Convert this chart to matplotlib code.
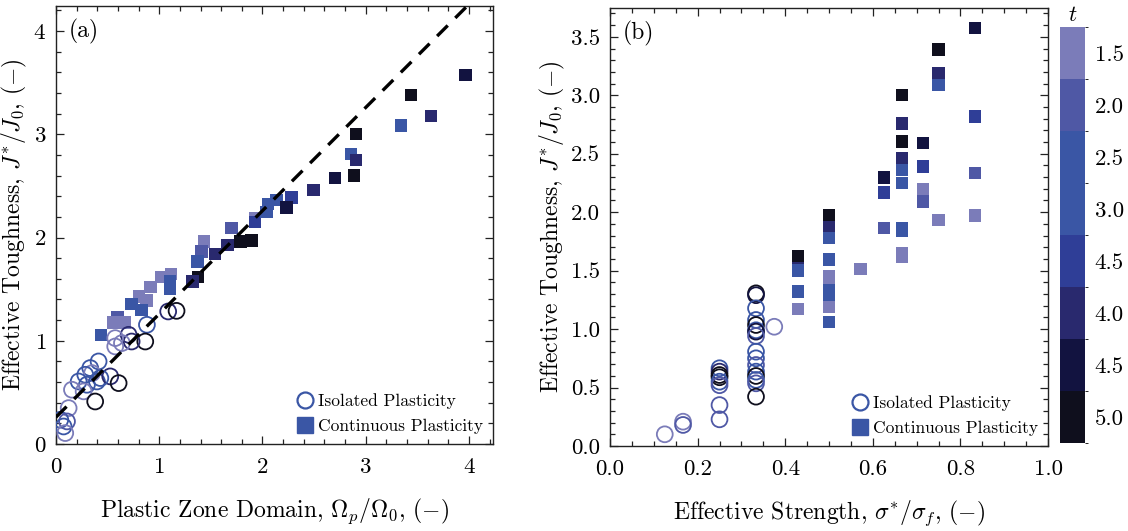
import numpy as np
import matplotlib
matplotlib.use("Agg")
import matplotlib.pyplot as plt
from matplotlib.colors import ListedColormap, BoundaryNorm
from matplotlib.cm import ScalarMappable
from matplotlib.lines import Line2D
from matplotlib.ticker import MultipleLocator, FormatStrFormatter

plt.rcParams['font.family'] = ['cmr10', 'DejaVu Serif']
plt.rcParams['mathtext.fontset'] = 'cm'
plt.rcParams['axes.formatter.use_mathtext'] = True
plt.rcParams['axes.unicode_minus'] = True

# ---- colour scale (t) ----
t_levels = [1.5, 2.0, 2.5, 3.0, 3.5, 4.0, 4.5, 5.0]
t_labels = ['1.5', '2.0', '2.5', '3.0', '4.5', '4.0', '4.5', '5.0']
t_colors = ['#7b7cb9', '#4f58a5', '#3a56a5', '#3a56a5', '#2f3e97', '#29296e', '#121340', '#0f0f1d']

# ---- panel (a): plastic zone domain vs effective toughness ----
a_iso_x = [0.881, 0.865, 0.704, 0.733, 0.574, 0.574, 0.639, 0.413, 0.332, 0.350, 0.284, 0.220,
           0.397, 0.526, 0.430, 0.607, 0.300, 0.268, 0.155, 0.380, 0.123, 0.042, 0.107, 0.074,
           0.090, 1.087, 1.168]
a_iso_y = [1.155, 0.993, 1.058, 0.993, 1.026, 0.945, 0.978, 0.800, 0.736, 0.687, 0.671, 0.606,
           0.606, 0.655, 0.639, 0.590, 0.574, 0.510, 0.526, 0.412, 0.348, 0.235, 0.219, 0.170,
           0.106, 1.284, 1.290]
a_iso_t = [2.5, 5.0, 4.0, 4.0, 1.5, 1.5, 1.5, 2.5, 2.5, 1.5, 3.0, 2.5,
           2.5, 4.0, 3.0, 5.0, 2.5, 1.5, 1.5, 5.0, 1.5, 2.5, 2.0, 2.5,
           1.5, 4.0, 5.0]

a_cont_x = [2.055, 1.930, 1.930, 2.040, 2.137, 2.280, 2.233, 2.495, 2.700, 2.885, 2.856, 2.904,
            2.904, 3.340, 3.630, 3.437, 3.966, 1.700, 1.660, 1.788, 1.894, 1.436, 1.410, 1.540,
            1.370, 1.378, 1.323, 1.113, 1.016, 1.104, 1.104, 0.917, 0.806, 0.878, 0.733, 0.830,
            0.597, 0.555, 0.668, 0.436]
a_cont_y = [2.326, 2.190, 2.150, 2.250, 2.365, 2.387, 2.290, 2.460, 2.575, 2.600, 2.810, 2.750,
            3.004, 3.084, 3.180, 3.381, 3.575, 2.090, 1.930, 1.960, 1.970, 1.960, 1.864, 1.840,
            1.770, 1.617, 1.574, 1.649, 1.617, 1.574, 1.500, 1.520, 1.429, 1.390, 1.355, 1.300,
            1.230, 1.177, 1.177, 1.058]
a_cont_t = [2.5, 1.5, 3.5, 3.0, 2.5, 3.5, 4.5, 4.0, 4.5, 5.0, 3.0, 4.0,
            5.0, 3.0, 4.0, 5.0, 4.5, 2.0, 4.0, 5.0, 5.0, 1.5, 2.0, 4.0,
            2.5, 5.0, 4.0, 1.5, 1.5, 3.0, 2.5, 1.5, 1.5, 1.5, 2.5, 3.0,
            2.0, 1.5, 1.5, 2.5]

fit_slope = 1.0
fit_intercept = 0.26

# ---- panel (b): effective strength vs effective toughness ----
b_iso_x = [0.125, 0.1667, 0.1667,
           0.25, 0.25, 0.25, 0.25, 0.25, 0.25, 0.25, 0.25,
           0.3333, 0.3333, 0.3333, 0.3333, 0.3333, 0.3333, 0.3333, 0.3333,
           0.3333, 0.3333, 0.3333, 0.3333, 0.3333, 0.3333, 0.3333, 0.3333,
           0.375]
b_iso_y = [0.10, 0.208, 0.180,
           0.665, 0.636, 0.607, 0.588, 0.550, 0.520, 0.350, 0.228,
           1.306, 1.290, 1.178, 1.078, 1.035, 0.990, 0.978, 0.941,
           0.807, 0.750, 0.693, 0.636, 0.599, 0.565, 0.536, 0.422,
           1.020]
b_iso_t = [1.5, 1.5, 2.0,
           3.0, 4.0, 5.0, 5.0, 2.5, 2.0, 2.0, 2.0,
           5.0, 4.5, 2.5, 3.0, 5.0, 2.5, 4.5, 2.0,
           3.0, 2.5, 2.0, 3.0, 5.0, 2.5, 2.0, 5.0,
           1.5]

b_cont_x = [0.4286, 0.4286, 0.4286, 0.4286, 0.4286,
            0.5, 0.5, 0.5, 0.5, 0.5, 0.5, 0.5, 0.5, 0.5, 0.5,
            0.5714,
            0.625, 0.625, 0.625,
            0.6667, 0.6667, 0.6667, 0.6667, 0.6667, 0.6667, 0.6667, 0.6667, 0.6667, 0.6667,
            0.7143, 0.7143, 0.7143, 0.7143,
            0.75, 0.75, 0.75, 0.75,
            0.8333, 0.8333, 0.8333, 0.8333]
b_cont_y = [1.55, 1.625, 1.50, 1.32, 1.17,
            1.876, 1.976, 1.777, 1.597, 1.454, 1.39, 1.33, 1.255, 1.19, 1.063,
            1.514,
            2.295, 2.167, 1.867,
            3.003, 2.760, 2.603, 2.466, 2.360, 2.252, 1.867, 1.840, 1.653, 1.620,
            2.590, 2.390, 2.200, 2.090,
            3.393, 3.188, 3.088, 1.933,
            3.578, 2.817, 2.333, 1.970]
b_cont_t = [4.0, 5.0, 3.0, 2.5, 1.5,
            4.0, 5.0, 2.5, 2.5, 1.5, 1.5, 3.0, 2.5, 1.5, 3.0,
            1.5,
            4.5, 3.5, 2.0,
            5.0, 4.0, 5.0, 4.0, 2.5, 2.5, 3.0, 3.0, 1.5, 1.5,
            4.5, 3.5, 1.5, 2.0,
            5.0, 4.0, 2.5, 1.5,
            4.5, 3.5, 2.0, 1.5]

cmap = ListedColormap(t_colors)
bounds = np.arange(1.25, 5.26, 0.5)
norm = BoundaryNorm(bounds, cmap.N)

fig = plt.figure(figsize=(11.28, 5.31), dpi=100)
axA = fig.add_axes([0.0496, 0.1638, 0.3874, 0.8249])
axB = fig.add_axes([0.5408, 0.1601, 0.3883, 0.8249])
cax = fig.add_axes([0.9397, 0.1657, 0.0222, 0.7834])

sq_size = 80
ci_size = 130
spine_col = '#222222'
lab_fs = 17

def style(ax):
    ax.tick_params(which='both', direction='in', top=True, right=True, colors=spine_col,
                   labelcolor='black', labelsize=16.5, width=0.9)
    ax.tick_params(which='major', length=6)
    ax.tick_params(which='minor', length=3.5)
    ax.tick_params(axis='x', which='major', pad=10)
    ax.tick_params(axis='y', which='major', pad=7)
    for s in ax.spines.values():
        s.set_color(spine_col)
        s.set_linewidth(1.0)

# panel (a)
axA.scatter(a_cont_x, a_cont_y, s=sq_size, marker='s', c=cmap(norm(a_cont_t)), linewidths=0, zorder=2)
axA.scatter(a_iso_x, a_iso_y, s=ci_size, marker='o', facecolors='none',
            edgecolors=cmap(norm(a_iso_t)), linewidths=1.3, zorder=3)
xl = np.array([0.0, 4.3])
axA.plot(xl, fit_slope * xl + fit_intercept, color='black', lw=2.4, ls=(0, (4.5, 3.2)), zorder=4)
axA.set_xlim(0, 4.232)
axA.set_ylim(0, 4.243)
axA.xaxis.set_major_locator(MultipleLocator(1))
axA.xaxis.set_minor_locator(MultipleLocator(0.2))
axA.yaxis.set_major_locator(MultipleLocator(1))
axA.yaxis.set_minor_locator(MultipleLocator(0.2))
style(axA)
axA.set_xlabel(r'Plastic Zone Domain, $\Omega_p/\Omega_0$, $(\mathbf{-})$', fontsize=lab_fs, labelpad=14)
axA.set_ylabel(r'Effective Toughness, $J^{*}/J_0$, $(\mathbf{-})$', fontsize=lab_fs)
axA.yaxis.set_label_coords(-0.062, 0.5)
axA.text(0.03, 0.97, '(a)', transform=axA.transAxes, fontsize=17, va='top', ha='left')

# panel (b)
axB.scatter(b_cont_x, b_cont_y, s=sq_size, marker='s', c=cmap(norm(b_cont_t)), linewidths=0, zorder=2)
axB.scatter(b_iso_x, b_iso_y, s=ci_size, marker='o', facecolors='none',
            edgecolors=cmap(norm(b_iso_t)), linewidths=1.3, zorder=3)
axB.set_xlim(0, 1.0)
axB.set_ylim(0, 3.747)
axB.xaxis.set_major_locator(MultipleLocator(0.2))
axB.xaxis.set_minor_locator(MultipleLocator(0.05))
axB.yaxis.set_major_locator(MultipleLocator(0.5))
axB.yaxis.set_minor_locator(MultipleLocator(0.1))
axB.xaxis.set_major_formatter(FormatStrFormatter('%.1f'))
axB.yaxis.set_major_formatter(FormatStrFormatter('%.1f'))
style(axB)
axB.set_xlabel(r'Effective Strength, $\sigma^{*}/\sigma_f$, $(\mathbf{-})$', fontsize=lab_fs, labelpad=14)
axB.set_ylabel(r'Effective Toughness, $J^{*}/J_0$, $(\mathbf{-})$', fontsize=lab_fs)
axB.yaxis.set_label_coords(-0.098, 0.5)
axB.text(0.03, 0.97, '(b)', transform=axB.transAxes, fontsize=17, va='top', ha='left')

leg_col = '#3a56a5'
handles = [Line2D([], [], marker='o', ls='none', markerfacecolor='none', markeredgecolor=leg_col,
                  markeredgewidth=1.6, markersize=11.5, label='Isolated Plasticity'),
           Line2D([], [], marker='s', ls='none', markerfacecolor=leg_col, markeredgecolor=leg_col,
                  markersize=11.5, label='Continuous Plasticity')]
for ax in (axA, axB):
    ax.legend(handles=handles, loc='lower right', frameon=False, fontsize=12.5,
              handletextpad=0.15, borderaxespad=0.15, labelspacing=0.6, handlelength=1.2)

# colour bar
sm = ScalarMappable(norm=norm, cmap=cmap)
cb = fig.colorbar(sm, cax=cax, ticks=t_levels)
cb.ax.set_yticklabels(t_labels)
cb.ax.invert_yaxis()
cb.ax.tick_params(length=0, labelsize=16.5, pad=7)
cb.outline.set_visible(False)
cb.ax.set_title('$t$', fontsize=16.5, pad=4)

fig.savefig('out.png', dpi=100)
